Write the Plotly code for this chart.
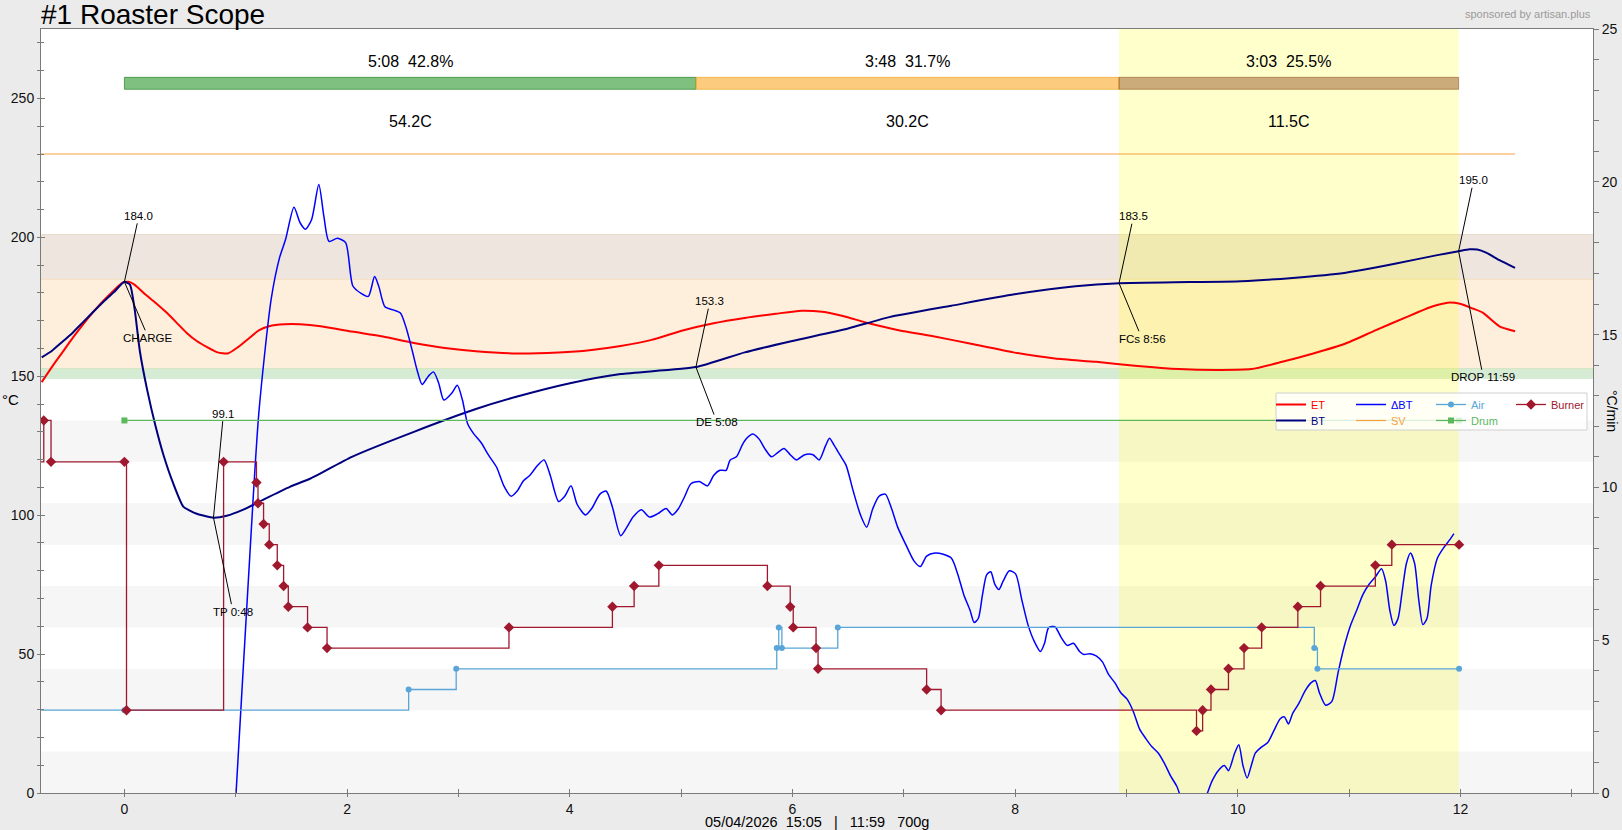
import plotly.graph_objects as go

FONT = "Liberation Sans, Arial, Helvetica, sans-serif"

# ---------------- data (time in minutes) ----------------
bt_time = [-0.743, -0.650, -0.557, -0.464, -0.371, -0.279, -0.186, -0.093, 0.0, 0.05,
           0.093, 0.139, 0.204, 0.279, 0.353, 0.436, 0.529, 0.650, 0.800, 0.919,
           1.068, 1.253, 1.486, 1.671, 2.043, 2.600, 3.157, 3.528, 4.002, 4.457,
           5.133, 5.571, 5.998, 6.500, 6.871, 7.428, 7.994, 8.542, 8.933, 9.564,
           10.028, 10.492, 10.956, 11.421, 11.792, 11.983, 12.080, 12.150, 12.230, 12.350,
           12.490]
bt_temp = [156.8, 159.2, 162.4, 165.7, 169.5, 173.2, 176.9, 180.3, 184.0, 183.0,
           173.9, 159.0, 145.2, 132.2, 121.4, 111.7, 103.1, 100.5, 99.1, 99.8,
           102.0, 105.7, 110.2, 113.2, 121.0, 130.0, 138.2, 142.7, 147.5, 150.8,
           153.3, 158.6, 162.7, 167.2, 171.3, 175.4, 179.5, 182.4, 183.5, 183.9,
           184.2, 185.4, 187.2, 190.6, 193.6, 195.0, 195.7, 195.6, 194.5, 191.8,
           189.0]

et_time = [-0.743, -0.650, -0.557, -0.464, -0.371, -0.279, -0.186, -0.093, -0.019, 0.037,
           0.093, 0.186, 0.279, 0.371, 0.464, 0.557, 0.650, 0.743, 0.836, 0.929,
           1.021, 1.114, 1.207, 1.300, 1.439, 1.578, 1.764, 2.043, 2.321, 2.600,
           2.878, 3.157, 3.528, 3.900, 4.178, 4.457, 4.735, 5.014, 5.292, 5.571,
           5.850, 6.082, 6.267, 6.453, 6.685, 6.964, 7.242, 7.614, 7.985, 8.357,
           8.728, 9.099, 9.471, 9.842, 10.121, 10.399, 10.678, 10.956, 11.235, 11.514,
           11.746, 11.885, 11.996, 12.110, 12.200, 12.350, 12.490]
et_temp = [147.9, 153.4, 158.6, 163.8, 168.7, 173.2, 177.3, 181.0, 183.6, 184.0,
           182.9, 179.5, 176.5, 173.2, 169.5, 165.7, 162.7, 160.5, 158.6, 158.2,
           160.5, 163.5, 166.5, 168.0, 168.7, 168.7, 168.0, 166.1, 164.3, 162.0,
           160.2, 159.0, 158.2, 158.6, 159.4, 160.9, 163.1, 166.5, 169.1, 171.0,
           172.5, 173.6, 173.2, 171.7, 169.1, 166.5, 164.6, 161.6, 158.6, 156.4,
           155.2, 153.7, 152.6, 152.3, 152.6, 155.2, 158.2, 161.6, 166.5, 171.3,
           175.1, 176.5, 176.1, 174.4, 172.9, 168.0, 166.2]

# Delta BT (C/min), pairs of (minute, value)
delta_bt = [
    (0.95, -3.3), (1.003, 0.0), (1.114, 7.00), (1.207, 12.42), (1.318, 16.15), (1.393, 17.51),
    (1.448, 18.12), (1.523, 19.17), (1.578, 18.66), (1.625, 18.45), (1.681, 18.76), (1.746, 19.91),
    (1.792, 18.86), (1.838, 18.05), (1.913, 18.15), (1.987, 18.01), (2.052, 16.59), (2.126, 16.35),
    (2.191, 16.25), (2.247, 16.90), (2.284, 16.59), (2.340, 15.91), (2.414, 15.81), (2.479, 15.71),
    (2.535, 15.17), (2.591, 14.39), (2.628, 13.85), (2.674, 13.37), (2.730, 13.64), (2.776, 13.78),
    (2.823, 13.41), (2.869, 12.86), (2.943, 13.10), (2.990, 13.34), (3.036, 12.86), (3.083, 12.08),
    (3.138, 11.75), (3.203, 11.47), (3.268, 11.07), (3.343, 10.66), (3.408, 10.05), (3.473, 9.71),
    (3.528, 9.88), (3.584, 10.22), (3.640, 10.39), (3.714, 10.73), (3.770, 10.90), (3.825, 10.39),
    (3.900, 9.54), (3.955, 9.71), (4.011, 10.05), (4.067, 9.44), (4.141, 9.10), (4.197, 9.31),
    (4.271, 9.78), (4.327, 9.88), (4.382, 9.37), (4.457, 8.42), (4.513, 8.70), (4.568, 9.03),
    (4.643, 9.27), (4.717, 9.03), (4.791, 9.14), (4.865, 9.31), (4.921, 9.10), (4.977, 9.31),
    (5.033, 9.71), (5.088, 10.12), (5.162, 10.19), (5.237, 10.05), (5.292, 10.39), (5.348, 10.56),
    (5.404, 10.56), (5.441, 10.90), (5.497, 11.00), (5.552, 11.41), (5.589, 11.61), (5.645, 11.75),
    (5.701, 11.58), (5.757, 11.24), (5.812, 11.00), (5.868, 11.14), (5.924, 11.27), (5.980, 11.07),
    (6.035, 10.90), (6.110, 11.07), (6.184, 11.07), (6.240, 10.90), (6.295, 11.34), (6.333, 11.61),
    (6.370, 11.41), (6.425, 11.07), (6.481, 10.73), (6.546, 9.88), (6.611, 9.10), (6.667, 8.70),
    (6.722, 9.31), (6.778, 9.71), (6.834, 9.78), (6.890, 9.31), (6.945, 8.70), (7.019, 8.12),
    (7.094, 7.58), (7.149, 7.41), (7.205, 7.75), (7.280, 7.85), (7.354, 7.81), (7.428, 7.68),
    (7.484, 7.17), (7.539, 6.49), (7.595, 5.98), (7.632, 5.58), (7.669, 5.71), (7.707, 6.49),
    (7.744, 7.14), (7.781, 7.24), (7.818, 6.83), (7.855, 6.66), (7.892, 6.93), (7.948, 7.27),
    (8.004, 7.17), (8.060, 6.32), (8.115, 5.51), (8.171, 4.97), (8.227, 4.63), (8.264, 4.90),
    (8.301, 5.41), (8.357, 5.44), (8.412, 5.10), (8.468, 4.83), (8.524, 4.90), (8.579, 4.63),
    (8.617, 4.53), (8.672, 4.56), (8.728, 4.49), (8.784, 4.29), (8.839, 3.88), (8.895, 3.61),
    (8.951, 3.27), (9.006, 3.07), (9.062, 2.66), (9.118, 2.09), (9.174, 1.78), (9.229, 1.51),
    (9.285, 1.31), (9.341, 0.97), (9.396, 0.56), (9.452, 0.22), (9.508, -0.3), (9.610, -0.6),
    (9.703, -0.2), (9.768, 0.39), (9.824, 0.73), (9.879, 0.90), (9.916, 0.73), (9.972, 1.31),
    (10.009, 1.58), (10.046, 0.90), (10.084, 0.49), (10.121, 0.90), (10.158, 1.31), (10.214, 1.51),
    (10.269, 1.65), (10.325, 2.05), (10.381, 2.43), (10.418, 2.49), (10.455, 2.26), (10.492, 2.60),
    (10.548, 2.93), (10.604, 3.34), (10.659, 3.61), (10.696, 3.68), (10.734, 3.27), (10.789, 2.87),
    (10.845, 3.00), (10.901, 3.95), (10.956, 4.80), (11.012, 5.48), (11.068, 5.98), (11.123, 6.49),
    (11.179, 6.83), (11.235, 7.07), (11.291, 7.34), (11.328, 6.93), (11.365, 5.98), (11.402, 5.48),
    (11.439, 5.71), (11.476, 6.59), (11.514, 7.51), (11.551, 7.85), (11.588, 7.51), (11.625, 6.32),
    (11.662, 5.51), (11.699, 5.71), (11.737, 6.80), (11.792, 7.68), (11.848, 8.02), (11.904, 8.29),
    (11.941, 8.49),
]

sv_time = [-0.76, 12.49]
sv_value = [230, 230]

# event series (0-100 event scale)
burner_time = [-0.9, -0.724, -0.659, 0.0, 0.019, 0.891, 1.186, 1.200, 1.250, 1.301,
               1.373, 1.430, 1.472, 1.645, 1.820, 3.454, 4.383, 4.578, 4.800, 5.775,
               5.980, 6.007, 6.212, 6.230, 7.205, 7.335, 9.629, 9.684, 9.759, 9.916,
               10.056, 10.214, 10.539, 10.743, 11.235, 11.383, 11.987]
burner_value = [80, 90, 80, 80, 20, 80, 75, 70, 65, 60,
                55, 50, 45, 40, 35, 40, 45, 50, 55, 50,
                45, 40, 35, 30, 25, 20, 15, 20, 25, 30,
                35, 40, 45, 50, 55, 60, 60]
air_time = [-0.9, 0.0, 2.553, 2.980, 5.859, 5.877, 5.905, 6.407, 10.687, 10.715, 11.987]
air_value = [20, 20, 25, 30, 35, 40, 35, 40, 35, 30, 30]
drum_time = [0.0, 11.987]
drum_value = [90, 90]

event_labels = ['CHARGE', 'TP 0:48', 'DE 5:08', 'FCs 8:56', 'DROP 11:59']
event_time = [0.0, 0.8, 5.133, 8.933, 11.983]
event_temp = [184.0, 99.1, 153.3, 183.5, 195.0]

phase_start = [0.0, 5.133, 8.933]
phase_end = [5.133, 8.933, 11.983]
phase_duration = ['5:08', '3:48', '3:03']
phase_percent = ['42.8%', '31.7%', '25.5%']
phase_rise = ['54.2C', '30.2C', '11.5C']

band_low = [149, 153, 185]
band_high = [153, 185, 201]
event_stripe_low = [0, 20, 40, 60, 80]

x_ticks = [0, 2, 4, 6, 8, 10, 12]
x_minor = [-1, 1, 3, 5, 7, 9, 11, 13]
y_ticks = [0, 50, 100, 150, 200, 250]
y2_ticks = [0, 5, 10, 15, 20, 25]

# ---------------- styling / layout constants ----------------
W, H = 1622, 830
ML, MR, MT, MB = 41, 29, 29, 37
PW, PH = W - ML - MR, H - MT - MB
X_RANGE = [-0.749, 13.19]
Y_RANGE = [0, 275]
Y2_RANGE = [0, 25]
EVENT_SCALE = 1.49             # temperature units per event unit
Y3_RANGE = [0, Y_RANGE[1] / EVENT_SCALE]
TICK_C = '#7a7a7a'

def px_x(px):
    return (px - ML) / PW

def px_y(py):
    return (H - MB - py) / PH

C_ET = '#ff0000'
C_BT = '#00007f'
C_DBT = '#0000ff'
C_SV = '#f5a142'
C_AIR = '#5aa5d8'
C_DRUM = '#5cb85c'
C_BURN = '#a0182e'

def legend_name(txt, col):
    return "<span style='color:%s'>%s</span>" % (col, txt)

fig = go.Figure()

# event traces (on hidden event axis)
fig.add_trace(go.Scatter(x=air_time, y=air_value, yaxis='y3', mode='lines+markers',
                         line=dict(color=C_AIR, width=1.3, shape='hv'),
                         marker=dict(symbol='circle', size=6, color=C_AIR),
                         name=legend_name('Air', C_AIR), legend='legend', legendrank=3))
fig.add_trace(go.Scatter(x=drum_time, y=drum_value, yaxis='y3', mode='lines+markers',
                         line=dict(color=C_DRUM, width=1.3, shape='hv'),
                         marker=dict(symbol='square', size=6, color=C_DRUM),
                         name=legend_name('Drum', C_DRUM), legend='legend2', legendrank=3))
fig.add_trace(go.Scatter(x=burner_time, y=burner_value, yaxis='y3', mode='lines+markers',
                         line=dict(color=C_BURN, width=1.3, shape='hv'),
                         marker=dict(symbol='diamond', size=8, color=C_BURN),
                         name=legend_name('Burner', C_BURN), legend='legend', legendrank=4))

fig.add_trace(go.Scatter(x=sv_time, y=sv_value, mode='lines',
                         line=dict(color=C_SV, width=1.2),
                         name=legend_name('SV', C_SV), legend='legend2', legendrank=2))
fig.add_trace(go.Scatter(x=et_time, y=et_temp, mode='lines',
                         line=dict(color=C_ET, width=2, shape='spline', smoothing=0.6),
                         name=legend_name('ET', C_ET), legend='legend', legendrank=1))
fig.add_trace(go.Scatter(x=bt_time, y=bt_temp, mode='lines',
                         line=dict(color=C_BT, width=2, shape='spline', smoothing=0.5),
                         name=legend_name('BT', C_BT), legend='legend2', legendrank=1))
fig.add_trace(go.Scatter(x=[p[0] for p in delta_bt], y=[p[1] for p in delta_bt], yaxis='y2',
                         mode='lines', line=dict(color=C_DBT, width=1.5, shape='spline', smoothing=0.7),
                         name=legend_name('\u0394BT', C_DBT), legend='legend', legendrank=2))
# empty trace that carries the inner half of the tick marks
fig.add_trace(go.Scatter(x=[None], y=[None], xaxis='x2', yaxis='y4', showlegend=False,
                         hoverinfo='skip'))

# ---------------- shapes ----------------
shapes = []
for lo in event_stripe_low:
    shapes.append(dict(type='rect', xref='paper', x0=0, x1=1, yref='y3', y0=lo, y1=lo + 10,
                       fillcolor='#f6f6f6', line=dict(width=0), layer='below'))
band_fill = ['#d6ebd3', '#fdefdb', '#ede5de']
band_line = ['#d9dfae', '#f1d6a8', '#e8d9cc']
for lo, hi, fc, lc in zip(band_low, band_high, band_fill, band_line):
    shapes.append(dict(type='rect', xref='paper', x0=0, x1=1, yref='y', y0=lo, y1=hi,
                       fillcolor=fc, line=dict(width=0), layer='below'))
    shapes.append(dict(type='line', xref='paper', x0=0, x1=1, yref='y', y0=hi, y1=hi,
                       line=dict(color=lc, width=1), layer='below'))
# development phase highlight
shapes.append(dict(type='rect', xref='x', x0=phase_start[2], x1=phase_end[2], yref='paper', y0=0, y1=1,
                   fillcolor='rgba(255,255,0,0.2)', line=dict(width=0), layer='below'))
# phase bars
bar_fill = ['rgba(0,128,0,0.5)', 'rgba(250,160,20,0.55)', 'rgba(139,69,19,0.45)']
bar_line = ['rgba(0,110,0,0.55)', 'rgba(240,160,20,0.6)', 'rgba(139,69,19,0.5)']
for x0, x1, fc, lc in zip(phase_start, phase_end, bar_fill, bar_line):
    shapes.append(dict(type='rect', xref='x', x0=x0, x1=x1, yref='y', y0=253.3, y1=257.6,
                       fillcolor=fc, line=dict(color=lc, width=1), layer='below'))
# legend frame (semi-transparent, above the curves)
shapes.append(dict(type='rect', xref='paper', yref='paper', x0=px_x(1276), x1=px_x(1587),
                   y0=px_y(430), y1=px_y(393), fillcolor='rgba(255,255,255,0.8)',
                   line=dict(color='#d0d0d0', width=1), layer='above'))

# ---------------- annotations ----------------
ann = []
NB = '\u00a0'
for x0, x1, d, p, r in zip(phase_start, phase_end, phase_duration, phase_percent, phase_rise):
    xm = (x0 + x1) / 2
    ann.append(dict(x=xm, y=263.4, xref='x', yref='y', text=d + NB * 2 + p, showarrow=False,
                    font=dict(family=FONT, size=16, color='black')))
    ann.append(dict(x=xm, y=241.8, xref='x', yref='y', text=r, showarrow=False,
                    font=dict(family=FONT, size=16, color='black')))

top_off = [(14.5, -66), (10, -104), (14, -66), (14.5, -67), (15, -71)]
bot_off = [(24, 56), (19.5, 94), (21, 55), (23, 55.5), (24.6, 126)]
for lab, t, v, (tax, tay), (bax, bay) in zip(event_labels, event_time, event_temp, top_off, bot_off):
    ann.append(dict(x=t, y=v, xref='x', yref='y', text='%.1f' % v, showarrow=True,
                    arrowhead=0, arrowwidth=1, arrowcolor='black', ax=tax, ay=tay,
                    standoff=0, font=dict(family=FONT, size=11.5, color='black')))
    ann.append(dict(x=t, y=v, xref='x', yref='y', text=lab, showarrow=True,
                    arrowhead=0, arrowwidth=1, arrowcolor='black', ax=bax, ay=bay,
                    standoff=0, font=dict(family=FONT, size=11.5, color='black')))

ann.append(dict(x=1, y=1, xref='paper', yref='paper', xanchor='right', yanchor='bottom',
                yshift=7, text='sponsored by artisan.plus', showarrow=False,
                font=dict(family=FONT, size=11, color='#9a9a9a')))
ann.append(dict(x=0.5, y=0, xref='paper', yref='paper', xanchor='center', yanchor='top',
                yshift=-19, showarrow=False,
                text='05/04/2026' + NB * 2 + '15:05' + NB * 3 + '|' + NB * 3 + '11:59' + NB * 3 + '700g',
                font=dict(family=FONT, size=14.5, color='black')))
ann.append(dict(x=0, y=px_y(399), xref='paper', yref='paper', xanchor='left', yanchor='middle',
                xshift=-ML, text='\u00b0C', showarrow=False,
                font=dict(family=FONT, size=15, color='black')))
ann.append(dict(x=1, y=px_y(411), xref='paper', yref='paper', xanchor='right', yanchor='middle',
                xshift=MR, text='\u00b0C/min', textangle=90, showarrow=False,
                font=dict(family=FONT, size=14, color='black')))

axis_common = dict(showgrid=False, zeroline=False, showline=True, linecolor=TICK_C,
                   linewidth=1, ticks='outside', ticklen=3, tickcolor=TICK_C, automargin=False,
                   tickfont=dict(family=FONT, size=14, color='#111'))
inner_common = dict(showgrid=False, zeroline=False, showline=False, ticks='inside', ticklen=4,
                    tickcolor=TICK_C, showticklabels=False, automargin=False)

legend_common = dict(orientation='h', xanchor='left', yanchor='top', bgcolor='rgba(0,0,0,0)',
                     borderwidth=0, font=dict(family=FONT, size=11), entrywidth=35,
                     entrywidthmode='pixels', itemwidth=30, traceorder='normal')

fig.update_layout(
    width=W, height=H,
    margin=dict(l=ML, r=MR, t=MT, b=MB, pad=0, autoexpand=False),
    paper_bgcolor='#ebebeb', plot_bgcolor='white',
    font=dict(family=FONT, color='black'),
    title=dict(text='#1 Roaster Scope', x=ML / W, xanchor='left', y=1 - 14 / H,
               yanchor='middle', font=dict(family=FONT, size=28, color='black')),
    xaxis=dict(range=X_RANGE, tickmode='array', tickvals=x_ticks, ticktext=[str(v) for v in x_ticks],
               mirror=True,
               minor=dict(tickvals=x_minor, ticks='outside', ticklen=3, tickcolor=TICK_C),
               **axis_common),
    xaxis2=dict(range=X_RANGE, overlaying='x', anchor='y', side='bottom', tickmode='array',
                tickvals=x_ticks,
                minor=dict(tickvals=x_minor, ticks='inside', ticklen=4, tickcolor=TICK_C),
                **inner_common),
    yaxis=dict(range=Y_RANGE, tickmode='array', tickvals=y_ticks, mirror=True,
               minor=dict(tickmode='linear', tick0=0, dtick=10, ticks='outside', ticklen=3,
                          tickcolor=TICK_C),
               **axis_common),
    yaxis4=dict(range=Y_RANGE, overlaying='y', anchor='x', side='left', tickmode='array',
                tickvals=y_ticks,
                minor=dict(tickmode='linear', tick0=0, dtick=10, ticks='inside', ticklen=3,
                           tickcolor=TICK_C),
                **inner_common),
    yaxis2=dict(range=Y2_RANGE, overlaying='y', side='right', tickmode='array', tickvals=y2_ticks,
                minor=dict(tickmode='linear', tick0=0, dtick=1, ticks='outside', ticklen=5,
                           tickcolor=TICK_C),
                **{**axis_common, 'ticklen': 5}),
    yaxis3=dict(range=Y3_RANGE, overlaying='y', visible=False, showgrid=False, zeroline=False),
    legend=dict(x=px_x(1271), y=px_y(390), **legend_common),
    legend2=dict(x=px_x(1271), y=px_y(406), **legend_common),
    shapes=shapes,
    annotations=ann,
    showlegend=True,
    hovermode=False,
)

fig.write_html("out.html", config={'displayModeBar': False},
               post_script="document.body.style.margin='0';")
